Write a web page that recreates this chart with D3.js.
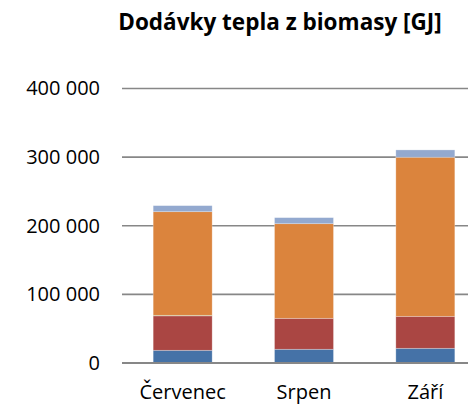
<!DOCTYPE html>
<html>
<head>
<meta charset="utf-8">
<script src="https://cdn.jsdelivr.net/npm/d3@7"></script>
<style>
  body { margin: 0; background: #fff; }
  svg { display: block; font-family: "Open Sans", sans-serif; }
</style>
</head>
<body>
<div id="chart"></div>
<script>
// months on the x axis
let months = ["Červenec", "Srpen", "Září"];

// stacked series, bottom to top
let seriesNames = ["s1", "s2", "s3", "s4", "s5"];
let s1 = [18500, 20000, 21400];
let s2 = [50200, 45100, 46600];
let s3 = [800, 0, 0];
let s4 = [151000, 137900, 231800];
let s5 = [8800, 8800, 10700];
let seriesColors = ["#4572A7", "#AA4643", "#89A54E", "#DB843D", "#93A9CF"];

let yTicks = [0, 100000, 200000, 300000, 400000];

let width = 468, height = 405;
let plot = {left: 122, right: 486, top: 88.5, bottom: 363};

let svg = d3.select("#chart").append("svg")
    .attr("width", width)
    .attr("height", height);

let rows = months.map((m, i) => ({
  month: m, s1: s1[i], s2: s2[i], s3: s3[i], s4: s4[i], s5: s5[i]
}));
let stacked = d3.stack().keys(seriesNames)(rows);

let x = d3.scaleBand()
    .domain(months)
    .range([plot.left, plot.right])
    .paddingInner(0.514)
    .paddingOuter(0.257);

let y = d3.scaleLinear()
    .domain([0, 400000])
    .range([plot.bottom, plot.top]);

let fmt = v => d3.format(",")(v).replace(/,/g, " ");

// gridlines
svg.append("g")
  .selectAll("line")
  .data(yTicks.filter(t => t > 0))
  .enter().append("line")
    .attr("x1", plot.left)
    .attr("x2", plot.right)
    .attr("y1", d => y(d))
    .attr("y2", d => y(d))
    .attr("stroke", "#878787")
    .attr("stroke-width", 1.6);

// bars
let layers = svg.append("g").selectAll("g")
  .data(stacked)
  .enter().append("g")
    .attr("fill", (d, i) => seriesColors[i]);

layers.selectAll("rect")
  .data(d => d.filter(p => p[1] > p[0]))
  .enter().append("rect")
    .attr("x", d => x(d.data.month))
    .attr("width", x.bandwidth())
    .attr("y", d => y(d[1]))
    .attr("height", d => y(d[0]) - y(d[1]))
    .attr("stroke", "rgba(255,255,255,0.35)")
    .attr("stroke-width", 0.75);

// y axis labels
let yAxis = svg.append("g")
    .attr("transform", `translate(${plot.left - 22},0)`)
    .call(d3.axisLeft(y).tickValues(yTicks).tickFormat(fmt).tickSize(0).tickPadding(0));
yAxis.select(".domain").remove();
yAxis.selectAll("text")
    .attr("font-family", "Open Sans, sans-serif")
    .attr("font-size", 20)
    .attr("fill", "#000");

// baseline
svg.append("line")
    .attr("x1", plot.left)
    .attr("x2", plot.right)
    .attr("y1", y(0))
    .attr("y2", y(0))
    .attr("stroke", "#878787")
    .attr("stroke-width", 2);

// x axis labels
let xAxis = svg.append("g")
    .attr("transform", `translate(0,${plot.bottom})`)
    .call(d3.axisBottom(x).tickSize(0).tickPadding(22));
xAxis.select(".domain").remove();
xAxis.selectAll("text")
    .attr("font-family", "Open Sans, sans-serif")
    .attr("font-size", 20)
    .attr("fill", "#000");

// title
svg.append("text")
    .attr("x", 280)
    .attr("y", 29.5)
    .attr("text-anchor", "middle")
    .attr("font-weight", "bold")
    .attr("font-size", 22.5)
    .attr("fill", "#000")
    .text("Dodávky tepla z biomasy [GJ]");
</script>
</body>
</html>
